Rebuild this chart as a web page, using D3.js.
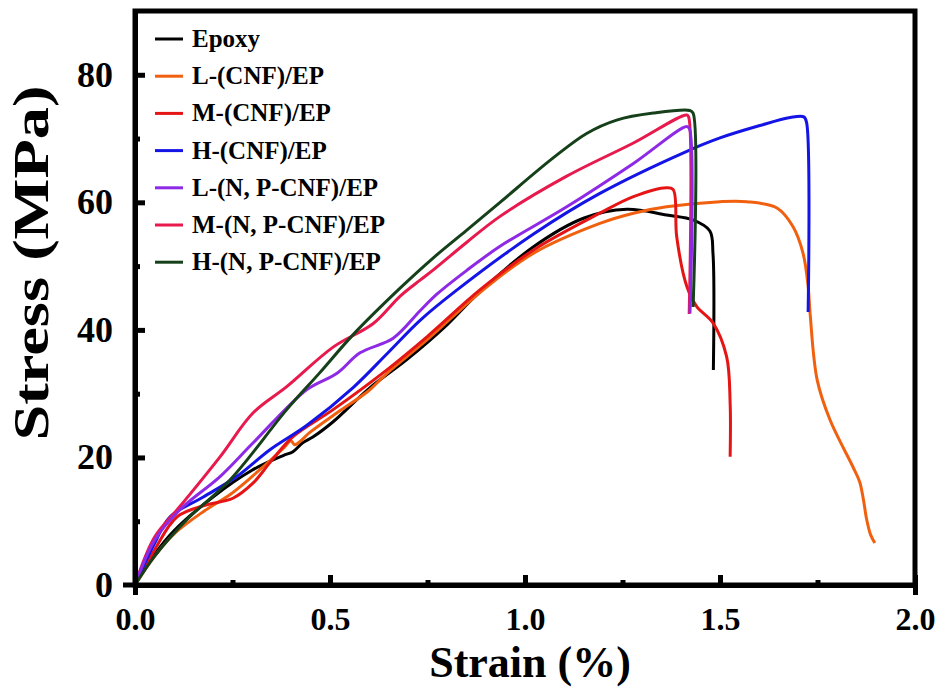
<!DOCTYPE html>
<html>
<head>
<meta charset="utf-8">
<script src="https://cdnjs.cloudflare.com/ajax/libs/d3/7.8.5/d3.min.js"></script>
<style>
  body { margin: 0; background: #fff; }
  text { font-family: "Liberation Serif", "Times New Roman", serif; font-weight: bold; }
</style>
</head>
<body>
<div id="graph"></div>
<script>
// series names and colours
var seriesNames = ["Epoxy", "L-(CNF)/EP", "M-(CNF)/EP", "H-(CNF)/EP", "L-(N, P-CNF)/EP", "M-(N, P-CNF)/EP", "H-(N, P-CNF)/EP"];
var seriesColors = ["#000000", "#f0600f", "#e51515", "#1414e6", "#8e2ae6", "#e8194c", "#15401a"];

// strain (%) / stress (MPa)
var epoxyStrain = [0, 0.05, 0.1, 0.2, 0.3, 0.38, 0.405, 0.43, 0.456, 0.508, 0.6, 0.7, 0.8, 0.876, 1.021, 1.15, 1.261, 1.363, 1.432, 1.474, 1.482, 1.483];
var epoxyStress = [0, 4.8, 8.5, 13.8, 18, 20.3, 20.9, 22.3, 23.2, 25.6, 30.8, 35.5, 40.8, 45.5, 53.0, 57.5, 58.9, 58.0, 57.2, 55.5, 52, 33.7];

var lcnfStrain = [0, 0.05, 0.1, 0.175, 0.244, 0.3, 0.38, 0.4, 0.41, 0.45, 0.518, 0.6, 0.646, 0.75, 0.893, 1.021, 1.192, 1.278, 1.363, 1.5, 1.569, 1.646, 1.687, 1.713, 1.726, 1.731, 1.749, 1.782, 1.841, 1.858, 1.868, 1.876, 1.886, 1.897];
var lcnfStress = [0, 4.5, 8, 11.5, 14.2, 17, 21.4, 22.6, 22.0, 24, 27, 30.5, 33.2, 38.5, 46.3, 52.0, 56.7, 58.3, 59.3, 60.1, 60.1, 59.1, 56.2, 52, 46.8, 42.6, 32.2, 25.9, 18.5, 16.2, 13.3, 10.3, 7.9, 6.6];

var mcnfStrain = [0, 0.05, 0.108, 0.18, 0.251, 0.303, 0.35, 0.406, 0.508, 0.645, 0.75, 0.885, 1.021, 1.192, 1.278, 1.363, 1.38, 1.389, 1.415, 1.44, 1.482, 1.517, 1.526, 1.526];
var mcnfStress = [0, 5.5, 10.7, 12.5, 13.6, 16, 19.5, 23.3, 27.5, 33.7, 39, 46.3, 52.5, 58.3, 60.9, 62.3, 62.0, 54.6, 46.8, 43.7, 41.1, 35.8, 28.5, 20.1];

var hcnfStrain = [0, 0.05, 0.09, 0.175, 0.261, 0.346, 0.44, 0.56, 0.65, 0.731, 0.82, 1.021, 1.192, 1.415, 1.5, 1.6, 1.68, 1.715, 1.722, 1.726];
var hcnfStress = [0, 6.5, 10.7, 13.8, 17.0, 21.2, 25.0, 31.0, 36.5, 41.5, 46.0, 55.0, 61.4, 68.0, 70.1, 72.0, 73.3, 73.4, 72.5, 42.8];

var lnpStrain = [0, 0.05, 0.115, 0.218, 0.303, 0.44, 0.518, 0.577, 0.662, 0.731, 0.774, 0.85, 0.936, 1.107, 1.278, 1.415, 1.422, 1.423];
var lnpStress = [0, 7, 11.8, 17, 22.3, 30.6, 33.2, 36.4, 38.7, 43.0, 45.6, 49.3, 53.1, 59.3, 66.1, 71.9, 71.5, 42.6];

var mnpStrain = [0, 0.05, 0.115, 0.218, 0.303, 0.389, 0.508, 0.611, 0.68, 0.731, 0.765, 0.85, 0.936, 1.107, 1.278, 1.415, 1.42, 1.421];
var mnpStress = [0, 7.5, 12.3, 20.1, 27.0, 31.1, 37.3, 41.0, 45.3, 47.8, 49.4, 53.7, 57.8, 64.1, 69.3, 73.7, 73.3, 42.5];

var hnpStrain = [0, 0.05, 0.132, 0.244, 0.389, 0.474, 0.56, 0.679, 0.765, 0.85, 0.936, 1.073, 1.158, 1.235, 1.329, 1.423, 1.431, 1.431];
var hnpStress = [0, 4.5, 10.2, 16.5, 27.5, 33.3, 39.3, 46.5, 51.3, 55.6, 60.0, 67.0, 70.8, 72.9, 74.0, 74.4, 74.0, 43.6];

var strains = [epoxyStrain, lcnfStrain, mcnfStrain, hcnfStrain, lnpStrain, mnpStrain, hnpStrain];
var stresses = [epoxyStress, lcnfStress, mcnfStress, hcnfStress, lnpStress, mnpStress, hnpStress];

// draw order so the picture's overlaps come out right
var drawOrder = [0, 1, 2, 3, 5, 4, 6];

var xTicks = [0, 0.5, 1.0, 1.5, 2.0];
var xMinor = [0.25, 0.75, 1.25, 1.75];
var yTicks = [0, 20, 40, 60, 80];
var yMinor = [10, 30, 50, 70];

var W = 942, H = 697;
var margin = {top: 11, right: 27, bottom: 112, left: 135};
var width = W - margin.left - margin.right,
    height = H - margin.top - margin.bottom;

var svg = d3.select('#graph')
    .append('svg')
    .attr('width', W)
    .attr('height', H)
    .append('g')
    .attr('transform', 'translate(' + margin.left + ',' + margin.top + ')');

var x = d3.scaleLinear().domain([0, 2.0]).range([0, width]);
var y = d3.scaleLinear().domain([0, 90]).range([height, 0]);

var line = d3.line()
    .x(function(d){ return x(d[0]); })
    .y(function(d){ return y(d[1]); })
    .curve(d3.curveCatmullRom.alpha(0.5));

drawOrder.forEach(function(i){
    var pts = strains[i].map(function(s, k){ return [s, stresses[i][k]]; });
    svg.append('path')
        .datum(pts)
        .attr('d', line)
        .style('fill', 'none')
        .style('stroke', seriesColors[i])
        .style('stroke-width', 3)
        .style('stroke-linejoin', 'round');
});

// frame
svg.append('rect')
    .attr('x', 0).attr('y', 0)
    .attr('width', width).attr('height', height)
    .style('fill', 'none')
    .style('stroke', '#000')
    .style('stroke-width', 5);

// bottom axis: inward ticks, outer ends hang down
var xAxis = d3.axisBottom(x).tickValues(xTicks).tickSizeInner(-10).tickSizeOuter(10).tickPadding(22)
    .tickFormat(d3.format('.1f'));
var xMinorAxis = d3.axisBottom(x).tickValues(xMinor).tickSizeInner(-5).tickSizeOuter(0).tickFormat('');

var gx = svg.append('g').attr('transform', 'translate(0,' + height + ')').call(xAxis);
svg.append('g').attr('transform', 'translate(0,' + height + ')').call(xMinorAxis);

var yAxis = d3.axisLeft(y).tickValues(yTicks).tickSizeInner(-10).tickSizeOuter(0).tickPadding(22);
var yMinorAxis = d3.axisLeft(y).tickValues(yMinor).tickSizeInner(-5).tickSizeOuter(0).tickFormat('');

var gy = svg.append('g').call(yAxis);
svg.append('g').call(yMinorAxis);

svg.selectAll('.domain, .tick line')
    .style('stroke', '#000')
    .style('stroke-width', 5);

gx.selectAll('.tick text')
    .style('font-size', '32px')
    .style('fill', '#000');
gy.selectAll('.tick text')
    .style('font-size', '36px')
    .style('fill', '#000');

// the bit of the x axis sticking out left of the frame
svg.append('line')
    .attr('x1', -12).attr('x2', 0)
    .attr('y1', height).attr('y2', height)
    .style('stroke', '#000')
    .style('stroke-width', 5);

// axis titles
svg.append('text')
    .attr('text-anchor', 'middle')
    .attr('x', width / 2 + 5)
    .attr('y', height + 92)
    .style('font-size', '44px')
    .text('Strain (%)');

svg.append('text')
    .attr('text-anchor', 'middle')
    .attr('transform', 'translate(' + (-87) + ',' + 252 + ') rotate(-90)')
    .attr('textLength', 355)
    .attr('lengthAdjust', 'spacingAndGlyphs')
    .style('font-size', '50px')
    .text('Stress (MPa)');

// legend
var legend = svg.append('g').attr('transform', 'translate(20,28)');
seriesNames.forEach(function(name, i){
    var row = legend.append('g').attr('transform', 'translate(0,' + (i * 37.2) + ')');
    row.append('line')
        .attr('x1', 0).attr('x2', 28)
        .attr('y1', 0).attr('y2', 0)
        .style('stroke', seriesColors[i])
        .style('stroke-width', 3);
    row.append('text')
        .attr('x', 37)
        .attr('y', 8)
        .style('font-size', '25px')
        .text(name);
});
</script>
</body>
</html>
